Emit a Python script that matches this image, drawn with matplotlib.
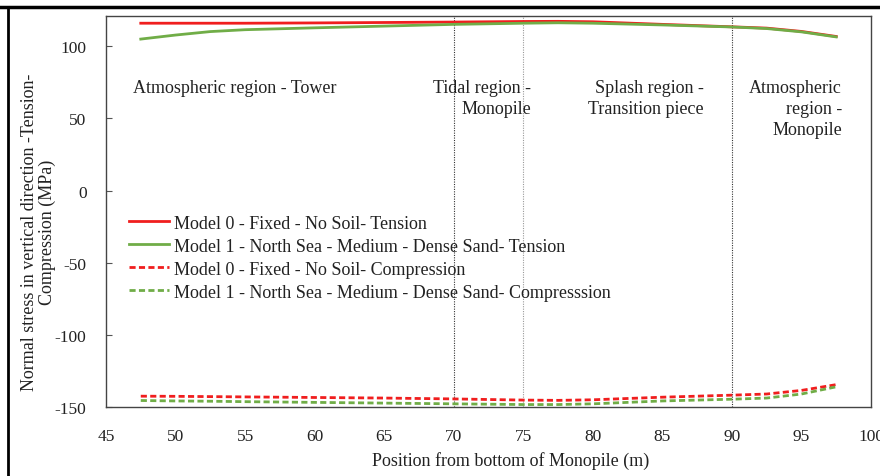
import matplotlib.pyplot as plt
from matplotlib.lines import Line2D

plt.rcParams["font.family"] = "Liberation Serif"
plt.rcParams["axes.unicode_minus"] = False

# Stress along the structure, sampled at the same positions for every series
position = [47.5, 50, 52.5, 55, 60, 65, 70, 75, 77.5, 80, 85, 90, 92.5, 95, 97.5]
m0_tension = [116.0, 116.0, 116.0, 116.0, 116.2, 116.5, 116.8, 117.2, 117.3, 117.0, 115.2, 113.5, 112.6, 110.3, 106.8]
m1_tension = [105.0, 107.8, 110.2, 111.5, 112.8, 114.0, 115.2, 116.0, 116.3, 116.0, 114.8, 113.4, 112.3, 110.0, 106.5]
m0_compression = [-142.5, -142.6, -142.8, -143.0, -143.4, -143.8, -144.4, -145.2, -145.4, -145.0, -143.2, -141.8, -141.0, -138.5, -134.5]
m1_compression = [-145.5, -145.8, -146.0, -146.3, -146.8, -147.3, -147.8, -148.3, -148.3, -147.8, -145.8, -144.6, -143.8, -141.0, -136.0]

series_labels = [
    "Model 0 - Fixed - No Soil- Tension",
    "Model 1 - North Sea - Medium - Dense Sand- Tension",
    "Model 0 - Fixed - No Soil- Compression",
    "Model 1 - North Sea - Medium - Dense Sand- Compresssion",
]

RED = "#F01E1E"
GREEN = "#70AD47"
TEXT = "#222222"

fig = plt.figure(figsize=(8.8, 4.77), dpi=100)
ax = fig.add_axes([106 / 880, 1 - 408 / 477, 765 / 880, 391 / 477])

# Region boundaries
ax.axvline(70, color="#333333", linestyle=(0, (1, 1.2)), linewidth=0.8, zorder=1)
ax.axvline(75, color="#999999", linestyle=(0, (1, 1.2)), linewidth=0.8, zorder=1)
ax.axvline(90, color="#333333", linestyle=(0, (1, 1.2)), linewidth=0.8, zorder=1)

ax.plot(position, m0_tension, color=RED, linewidth=2.0, label=series_labels[0], zorder=3)
ax.plot(position, m1_tension, color=GREEN, linewidth=2.0, label=series_labels[1], zorder=4)
ax.plot(position, m0_compression, color=RED, linewidth=2.0, linestyle=(0, (2.2, 1.2)),
        label=series_labels[2], zorder=3)
ax.plot(position, m1_compression, color=GREEN, linewidth=2.0, linestyle=(0, (2.2, 1.2)),
        label=series_labels[3], zorder=4)

ax.set_xlim(45, 100)
ax.set_ylim(-150, 121)
ax.set_xticks(range(45, 101, 5))
ax.set_yticks(range(-150, 101, 50))
ax.tick_params(axis="both", labelsize=12.5, direction="in", length=4, color="#555555",
               labelcolor=TEXT)
ax.tick_params(axis="y", pad=14)
ax.tick_params(axis="x", length=0, pad=15)
for spine in ax.spines.values():
    spine.set_color("#444444")
    spine.set_linewidth(1.0)

ax.set_xlabel("Position from bottom of Monopile (m)", fontsize=13, color=TEXT)
ax.xaxis.set_label_coords(0.529, -0.113)
ax.set_ylabel("Normal stress in vertical direction -Tension-\nCompression (MPa)",
              fontsize=13, color=TEXT, linespacing=1.05)
ax.yaxis.set_label_coords(-0.066, 0.45)

# Region annotations
txt = dict(fontsize=13, color=TEXT, va="top", linespacing=1.3)
ax.text(46.95, 77, "Atmospheric region - Tower", ha="left", **txt)
ax.text(75.55, 77, "Tidal region -\nMonopile", ha="right", **txt)
ax.text(88.0, 77, "Splash region -\nTransition piece", ha="right", **txt)
ax.text(97.9, 77, "Atmospheric\nregion -\nMonopile", ha="right", **txt)

ax.legend(loc="upper left", bbox_to_anchor=(0.021, 0.51), frameon=False, fontsize=13,
          handlelength=2.2, handletextpad=0.3, labelspacing=0.33, borderaxespad=0,
          labelcolor=TEXT)

# Outer frame, cut off at the right and bottom edges
fig.add_artist(Line2D([0, 1], [1 - 8 / 477, 1 - 8 / 477], color="black", linewidth=2.5,
                      transform=fig.transFigure))
fig.add_artist(Line2D([8 / 880, 8 / 880], [0, 1 - 8 / 477], color="black", linewidth=2.0,
                      transform=fig.transFigure))

fig.savefig("out.png", dpi=100)
